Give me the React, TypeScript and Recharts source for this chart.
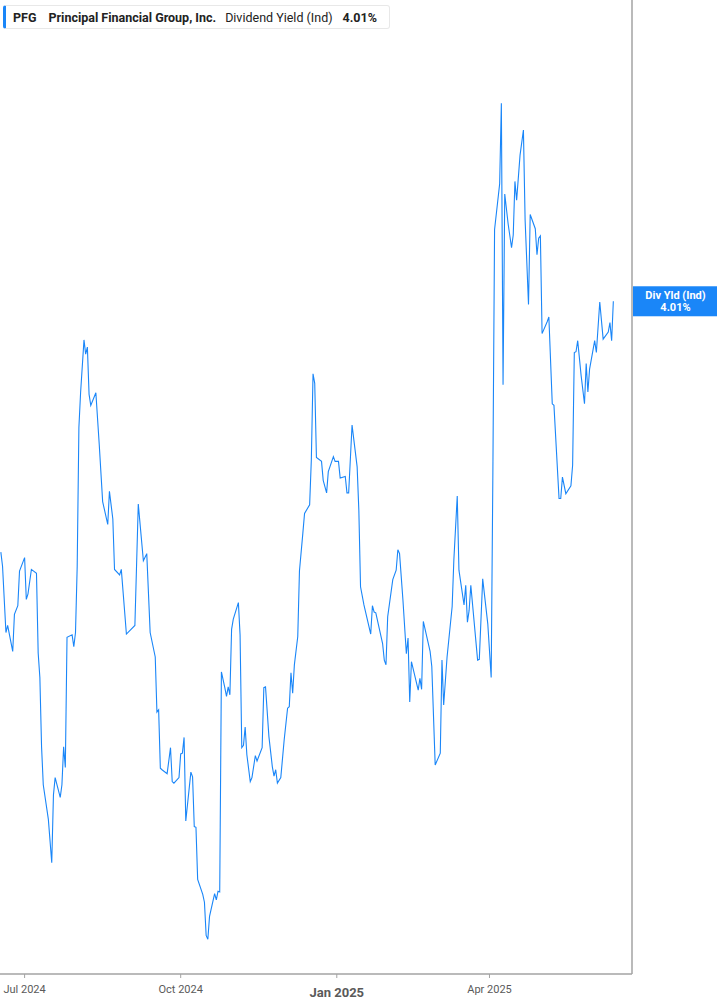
import React from "react";
import { LineChart, Line, XAxis, YAxis, ReferenceLine } from "recharts";

// trading days picked off the curve (vertices), and the indicated dividend yield in %
const DATES = [
  "2024-06-17", "2024-06-18", "2024-06-20", "2024-06-21", "2024-06-24", "2024-06-25", "2024-06-27", "2024-06-28",
  "2024-07-01", "2024-07-02", "2024-07-03", "2024-07-05", "2024-07-08", "2024-07-09", "2024-07-10", "2024-07-11",
  "2024-07-12", "2024-07-15", "2024-07-17", "2024-07-18", "2024-07-19", "2024-07-22", "2024-07-23", "2024-07-24",
  "2024-07-25", "2024-07-26", "2024-07-29", "2024-07-30", "2024-07-31",
  "2024-08-01", "2024-08-02", "2024-08-03", "2024-08-05", "2024-08-06", "2024-08-07", "2024-08-08", "2024-08-09",
  "2024-08-12", "2024-08-14", "2024-08-16", "2024-08-19", "2024-08-20", "2024-08-22", "2024-08-23", "2024-08-26",
  "2024-08-27", "2024-08-30",
  "2024-09-04", "2024-09-06", "2024-09-09", "2024-09-11", "2024-09-13", "2024-09-16", "2024-09-17", "2024-09-18",
  "2024-09-19", "2024-09-20", "2024-09-23", "2024-09-25", "2024-09-26", "2024-09-27", "2024-09-30",
  "2024-10-01", "2024-10-02", "2024-10-03", "2024-10-04", "2024-10-07", "2024-10-08", "2024-10-09", "2024-10-10",
  "2024-10-11", "2024-10-14", "2024-10-15", "2024-10-16", "2024-10-17", "2024-10-18", "2024-10-21", "2024-10-22",
  "2024-10-23", "2024-10-24", "2024-10-25", "2024-10-27", "2024-10-28", "2024-10-29", "2024-10-30", "2024-10-31",
  "2024-11-01", "2024-11-04", "2024-11-05", "2024-11-06", "2024-11-07", "2024-11-08", "2024-11-09", "2024-11-11",
  "2024-11-12", "2024-11-14", "2024-11-15", "2024-11-18", "2024-11-19", "2024-11-20", "2024-11-22", "2024-11-24",
  "2024-11-25", "2024-11-26", "2024-11-27", "2024-11-29",
  "2024-12-01", "2024-12-03", "2024-12-04", "2024-12-05", "2024-12-06", "2024-12-07", "2024-12-09", "2024-12-10",
  "2024-12-12", "2024-12-13", "2024-12-16", "2024-12-17", "2024-12-18", "2024-12-19", "2024-12-20", "2024-12-23",
  "2024-12-24", "2024-12-26", "2024-12-27", "2024-12-30", "2024-12-31",
  "2025-01-02", "2025-01-03", "2025-01-06", "2025-01-07", "2025-01-08", "2025-01-10", "2025-01-13", "2025-01-14",
  "2025-01-15", "2025-01-17", "2025-01-21", "2025-01-22", "2025-01-23", "2025-01-24", "2025-01-28", "2025-01-29",
  "2025-01-30", "2025-01-31",
  "2025-02-03", "2025-02-05", "2025-02-06", "2025-02-07", "2025-02-09", "2025-02-11", "2025-02-12", "2025-02-13",
  "2025-02-14", "2025-02-18", "2025-02-19", "2025-02-20", "2025-02-21", "2025-02-25", "2025-02-26", "2025-02-28",
  "2025-03-03", "2025-03-04", "2025-03-05", "2025-03-07", "2025-03-10", "2025-03-11", "2025-03-13", "2025-03-14",
  "2025-03-17", "2025-03-18", "2025-03-19", "2025-03-20", "2025-03-21", "2025-03-25", "2025-03-26", "2025-03-28",
  "2025-03-31",
  "2025-04-02", "2025-04-03", "2025-04-04", "2025-04-07", "2025-04-08", "2025-04-09", "2025-04-10", "2025-04-12",
  "2025-04-14", "2025-04-15", "2025-04-16", "2025-04-17", "2025-04-19", "2025-04-21", "2025-04-22", "2025-04-24",
  "2025-04-25", "2025-04-28", "2025-04-29", "2025-04-30",
  "2025-05-01", "2025-05-02", "2025-05-05", "2025-05-06", "2025-05-08", "2025-05-09", "2025-05-12", "2025-05-13",
  "2025-05-14", "2025-05-16", "2025-05-19", "2025-05-20", "2025-05-21", "2025-05-22", "2025-05-23", "2025-05-25",
  "2025-05-27", "2025-05-28", "2025-05-29", "2025-05-30",
  "2025-06-02", "2025-06-03", "2025-06-05", "2025-06-07", "2025-06-10", "2025-06-11", "2025-06-12", "2025-06-13",
];

const DIV_YIELD = [
  3.692, 3.674, 3.590, 3.599, 3.566, 3.613, 3.624, 3.668,
  3.685, 3.632, 3.639, 3.670, 3.665, 3.564, 3.533, 3.445,
  3.397, 3.353, 3.298, 3.384, 3.406, 3.381, 3.397, 3.445,
  3.419, 3.584, 3.587, 3.572, 3.590,
  3.674, 3.850, 3.894, 3.961, 3.943, 3.952, 3.892, 3.878,
  3.894, 3.828, 3.756, 3.727, 3.769, 3.734, 3.670, 3.663,
  3.670, 3.588,
  3.599, 3.753, 3.681, 3.690, 3.590, 3.559, 3.489, 3.492,
  3.418, 3.416, 3.411, 3.444, 3.401, 3.399, 3.406,
  3.436, 3.437, 3.457, 3.351, 3.413, 3.407, 3.344, 3.343,
  3.277, 3.258, 3.248, 3.206, 3.201, 3.230, 3.259, 3.251,
  3.262, 3.261, 3.540, 3.520, 3.509, 3.521, 3.511, 3.594,
  3.607, 3.628, 3.587, 3.444, 3.447, 3.470, 3.435, 3.401,
  3.406, 3.434, 3.427, 3.444, 3.520, 3.521, 3.458, 3.420,
  3.408, 3.416, 3.399, 3.406,
  3.454, 3.494, 3.496, 3.539, 3.513, 3.549, 3.585, 3.668,
  3.716, 3.741, 3.752, 3.809, 3.918, 3.906, 3.812, 3.807,
  3.783, 3.767, 3.794, 3.813, 3.807,
  3.807, 3.786, 3.788, 3.767, 3.767, 3.853, 3.800, 3.745,
  3.648, 3.625, 3.588, 3.624, 3.616, 3.615, 3.576, 3.555,
  3.549, 3.610,
  3.657, 3.669, 3.695, 3.690, 3.631, 3.563, 3.583, 3.502,
  3.553, 3.517, 3.532, 3.518, 3.604, 3.566, 3.547, 3.422,
  3.437, 3.555, 3.498, 3.559, 3.623, 3.682, 3.763, 3.669,
  3.625, 3.650, 3.603, 3.618, 3.650, 3.555, 3.556, 3.658,
  3.601,
  3.533, 3.793, 4.101, 4.159, 4.261, 3.904, 4.146, 4.108,
  4.078, 4.094, 4.162, 4.138, 4.195, 4.227, 4.113, 4.006,
  4.120, 4.102, 4.069, 4.090,
  4.093, 3.969, 3.984, 3.990, 3.880, 3.878, 3.760, 3.760,
  3.787, 3.766, 3.776, 3.802, 3.945, 3.946, 3.960, 3.916,
  3.880, 3.931, 3.895, 3.924,
  3.960, 3.945, 4.009, 3.962, 3.971, 3.983, 3.960, 4.010,
];

const TICK_DATES = ["2024-07-01", "2024-10-01", "2025-01-01", "2025-04-01"];
const TICK_LABELS = ["Jul 2024", "Oct 2024", "Jan 2025", "Apr 2025"];
const X_RANGE = ["2024-06-16T12:00:00Z", "2025-06-24T00:00:00Z"];
const Y_RANGE = [3.157, 4.392];

const TICKER = "PFG";
const COMPANY = "Principal Financial Group, Inc.";
const METRIC = "Dividend Yield (Ind)";
const BADGE_NAME = "Div Yld (Ind)";

const BLUE = "#1a86f8";
const GRID = "#a3a3a3";
const FONT = "Roboto, 'Noto Sans', Arial, sans-serif";

const ts = (d: string) => Date.parse(d.length > 10 ? d : d + "T00:00:00Z");

const data = DATES.map((d, i) => ({ t: ts(d), v: DIV_YIELD[i] }));
const lastValue = DIV_YIELD[DIV_YIELD.length - 1];
const fmt = (v: number) => `${v.toFixed(2)}%`;

function DateTick(props: any) {
  const { x, y, payload } = props;
  const i = TICK_DATES.findIndex((d) => ts(d) === payload.value);
  const label = TICK_LABELS[i] ?? "";
  const isYear = label.startsWith("Jan");
  return (
    <text x={x} y={y} dy={isYear ? 17 : 13} textAnchor="middle"
      fontFamily={FONT} fontSize={isYear ? 13 : 11} fontWeight={isYear ? 700 : 400} fill="#5a5a5a">
      {label}
    </text>
  );
}

function LastBadge(props: any) {
  const vb = props.viewBox || {};
  const left = vb.x + vb.width + 1;
  const cy = vb.y;
  const w = 85;
  return (
    <g>
      <rect x={left} y={cy - 15} width={w} height={30} fill={BLUE} />
      <text x={left + w / 2} y={cy - 2} textAnchor="middle" fontFamily={FONT} fontSize={11} fontWeight={700} fill="#fff">
        {BADGE_NAME}
      </text>
      <text x={left + w / 2} y={cy + 10} textAnchor="middle" fontFamily={FONT} fontSize={11} fontWeight={700} fill="#fff">
        {fmt(lastValue)}
      </text>
    </g>
  );
}

export default function App() {
  return (
    <div style={{ position: "absolute", left: 0, top: 0, width: 717, height: 1005, background: "#fff", fontFamily: FONT }}>
      <LineChart width={717} height={1005} data={data} margin={{ top: 0, right: 0, bottom: 0, left: 0 }}>
        <XAxis dataKey="t" type="number" domain={X_RANGE.map(ts)} ticks={TICK_DATES.map(ts)} interval={0}
          allowDataOverflow height={31} tick={<DateTick />} tickSize={4} tickMargin={2}
          axisLine={{ stroke: GRID, strokeWidth: 1.5 }} tickLine={{ stroke: GRID }} />
        <YAxis orientation="right" type="number" domain={Y_RANGE} allowDataOverflow width={85}
          tick={false} tickLine={false} axisLine={{ stroke: GRID, strokeWidth: 1.5 }} />
        <ReferenceLine y={lastValue} stroke="none" ifOverflow="visible"
          label={(p: any) => <LastBadge {...p} />} />
        <Line type="linear" dataKey="v" stroke={BLUE} strokeWidth={1.1} dot={false} activeDot={false}
          isAnimationActive={false} />
      </LineChart>

      <div style={{
        position: "absolute", left: 3, top: 5, width: 387, height: 24, boxSizing: "border-box",
        background: "#fff", border: "1px solid #e8e8e8", borderLeft: `3px solid ${BLUE}`, borderRadius: 3,
        display: "flex", alignItems: "center", fontSize: 12.5, color: "#222", whiteSpace: "nowrap",
      }}>
        <span style={{ fontWeight: 700, marginLeft: 7 }}>{TICKER}</span>
        <span style={{ fontWeight: 700, marginLeft: 12 }}>{COMPANY}</span>
        <span style={{ marginLeft: 9 }}>{METRIC}</span>
        <span style={{ fontWeight: 700, marginLeft: 10 }}>{fmt(lastValue)}</span>
      </div>
    </div>
  );
}
